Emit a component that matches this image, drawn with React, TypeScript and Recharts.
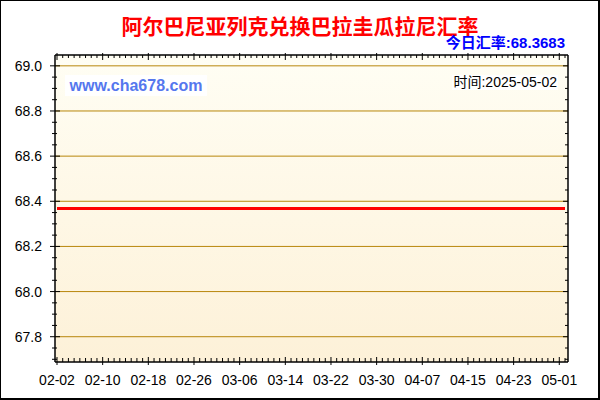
import { CartesianGrid, Line, LineChart, ReferenceLine, XAxis, YAxis } from "recharts";

// daily categories shown on the x axis
const DATES = [
  "02-02", "02-03", "02-04", "02-05", "02-06", "02-07", "02-08", "02-09", "02-10", "02-11",
  "02-12", "02-13", "02-14", "02-15", "02-16", "02-17", "02-18", "02-19", "02-20", "02-21",
  "02-22", "02-23", "02-24", "02-25", "02-26", "02-27", "02-28", "03-01", "03-02", "03-03",
  "03-04", "03-05", "03-06", "03-07", "03-08", "03-09", "03-10", "03-11", "03-12", "03-13",
  "03-14", "03-15", "03-16", "03-17", "03-18", "03-19", "03-20", "03-21", "03-22", "03-23",
  "03-24", "03-25", "03-26", "03-27", "03-28", "03-29", "03-30", "03-31", "04-01", "04-02",
  "04-03", "04-04", "04-05", "04-06", "04-07", "04-08", "04-09", "04-10", "04-11", "04-12",
  "04-13", "04-14", "04-15", "04-16", "04-17", "04-18", "04-19", "04-20", "04-21", "04-22",
  "04-23", "04-24", "04-25", "04-26", "04-27", "04-28", "04-29", "04-30", "05-01", "05-02",
];

// ALL -> PYG rate, flat over the period
const RATES = [
  68.3683, 68.3683, 68.3683, 68.3683, 68.3683, 68.3683, 68.3683, 68.3683, 68.3683, 68.3683,
  68.3683, 68.3683, 68.3683, 68.3683, 68.3683, 68.3683, 68.3683, 68.3683, 68.3683, 68.3683,
  68.3683, 68.3683, 68.3683, 68.3683, 68.3683, 68.3683, 68.3683, 68.3683, 68.3683, 68.3683,
  68.3683, 68.3683, 68.3683, 68.3683, 68.3683, 68.3683, 68.3683, 68.3683, 68.3683, 68.3683,
  68.3683, 68.3683, 68.3683, 68.3683, 68.3683, 68.3683, 68.3683, 68.3683, 68.3683, 68.3683,
  68.3683, 68.3683, 68.3683, 68.3683, 68.3683, 68.3683, 68.3683, 68.3683, 68.3683, 68.3683,
  68.3683, 68.3683, 68.3683, 68.3683, 68.3683, 68.3683, 68.3683, 68.3683, 68.3683, 68.3683,
  68.3683, 68.3683, 68.3683, 68.3683, 68.3683, 68.3683, 68.3683, 68.3683, 68.3683, 68.3683,
  68.3683, 68.3683, 68.3683, 68.3683, 68.3683, 68.3683, 68.3683, 68.3683, 68.3683, 68.3683,
];

const X_LABELS = ["02-02", "02-10", "02-18", "02-26", "03-06", "03-14", "03-22", "03-30", "04-07", "04-15", "04-23", "05-01"];

const Y_MAJOR = [67.8, 68.0, 68.2, 68.4, 68.6, 68.8, 69.0];
const Y_TICKS = [
  67.7, 67.75, 67.8, 67.85, 67.9, 67.95, 68.0, 68.05, 68.1, 68.15, 68.2, 68.25, 68.3, 68.35,
  68.4, 68.45, 68.5, 68.55, 68.6, 68.65, 68.7, 68.75, 68.8, 68.85, 68.9, 68.95, 69.0,
];
const Y_DOMAIN: [number, number] = [67.688, 69.048];

const TITLE = "阿尔巴尼亚列克兑换巴拉圭瓜拉尼汇率";
const TODAY = "今日汇率:68.3683";
const STAMP = "时间:2025-05-02";
const SITE = "www.cha678.com";

const data = DATES.map((d, i) => ({ date: d, rate: RATES[i] }));

const FONT = "'Liberation Sans', Arial, 'Noto Sans CJK SC', sans-serif";
const GOLD = "#b8860b";

const isMajor = (v: number) => Y_MAJOR.some((m) => Math.abs(m - v) < 1e-6);

function LeftTick(props: any) {
  const { x, y, payload } = props;
  const major = isMajor(payload.value);
  return (
    <g>
      <line x1={major ? x - 5 : x - 3} x2={major ? x + 5 : x + 2} y1={y} y2={y} stroke="#000" />
      {major && (
        <text x={x - 13} y={y + 5} textAnchor="end" fontSize={14} fontFamily={FONT} fill="#000">
          {payload.value.toFixed(1)}
        </text>
      )}
    </g>
  );
}

function RightTick(props: any) {
  const { x, y, payload } = props;
  const major = isMajor(payload.value);
  return <line x1={major ? x - 5 : x - 3} x2={x} y1={y} y2={y} stroke="#000" />;
}

function BottomTick(props: any) {
  const { x, y, payload } = props;
  const major = X_LABELS.includes(payload.value);
  return (
    <g>
      <line x1={x} x2={x} y1={major ? y - 5 : y - 4} y2={major ? y + 3 : y} stroke="#000" />
      {major && (
        <text x={x} y={y + 23} textAnchor="middle" fontSize={14} fontFamily={FONT} fill="#000">
          {payload.value}
        </text>
      )}
    </g>
  );
}

function TopTick(props: any) {
  const { x, y, payload } = props;
  const major = X_LABELS.includes(payload.value);
  return <line x1={x} x2={x} y1={major ? y - 2 : y} y2={major ? y + 5 : y + 3} stroke="#000" />;
}

export default function App() {
  return (
    <div
      style={{
        position: "fixed",
        left: 0,
        top: 0,
        width: 600,
        height: 400,
        background: "#fff",
        fontFamily: FONT,
      }}
    >
      <LineChart
        width={600}
        height={400}
        data={data}
        margin={{ top: 50, right: 0, bottom: 0, left: 0 }}
        style={{ position: "absolute", left: 0, top: 0 }}
      >
        <defs>
          <linearGradient id="plotBg" x1="0" y1="0" x2="0" y2="1">
            <stop offset="0%" stopColor="#fffef4" />
            <stop offset="100%" stopColor="#fdf1d8" />
          </linearGradient>
        </defs>
        <CartesianGrid horizontal={false} vertical={false} fill="url(#plotBg)" stroke="none" />
        <XAxis
          dataKey="date"
          interval={0}
          height={38}
          padding={{ left: 2, right: 3 }}
          tickSize={0}
          tickMargin={0}
          tickLine={false}
          axisLine={{ stroke: "#000", strokeWidth: 1.5 }}
          tick={<BottomTick />}
        />
        <XAxis
          xAxisId="top"
          orientation="top"
          dataKey="date"
          interval={0}
          height={5}
          padding={{ left: 2, right: 3 }}
          tickSize={0}
          tickMargin={0}
          tickLine={false}
          axisLine={{ stroke: "#000", strokeWidth: 1.5 }}
          tick={<TopTick />}
        />
        <YAxis
          width={55}
          domain={Y_DOMAIN}
          ticks={Y_TICKS}
          interval={0}
          allowDataOverflow
          tickSize={0}
          tickMargin={0}
          tickLine={false}
          axisLine={{ stroke: "#000", strokeWidth: 1.5 }}
          tick={<LeftTick />}
        />
        <YAxis
          yAxisId="right"
          orientation="right"
          width={32}
          domain={Y_DOMAIN}
          ticks={Y_TICKS}
          interval={0}
          allowDataOverflow
          tickSize={0}
          tickMargin={0}
          tickLine={false}
          axisLine={{ stroke: "#000", strokeWidth: 1.5 }}
          tick={<RightTick />}
        />
        {Y_MAJOR.map((v) => (
          <ReferenceLine key={v} y={v} stroke={GOLD} strokeWidth={1} />
        ))}
        <Line
          type="linear"
          dataKey="rate"
          stroke="#ff0000"
          strokeWidth={3}
          dot={false}
          activeDot={false}
          isAnimationActive={false}
        />
      </LineChart>

      <div
        style={{
          position: "absolute",
          left: 0,
          top: 0,
          width: 600,
          height: 400,
          boxSizing: "border-box",
          borderStyle: "solid",
          borderColor: "#000",
          borderWidth: "1px 2px 2px 1px",
          pointerEvents: "none",
        }}
      />
      <div
        style={{
          position: "absolute",
          left: 0,
          width: 600,
          top: 14,
          textAlign: "center",
          fontSize: 21,
          lineHeight: "22px",
          fontWeight: "bold",
          color: "#ff0000",
          fontFamily: "'Noto Sans CJK SC', sans-serif",
        }}
      >
        {TITLE}
      </div>
      <div
        style={{
          position: "absolute",
          right: 35,
          top: 34,
          fontSize: 15,
          lineHeight: "17px",
          fontWeight: "bold",
          color: "#0000ff",
        }}
      >
        {TODAY}
      </div>
      <div
        style={{
          position: "absolute",
          left: 65,
          top: 75,
          width: 142,
          height: 21,
          background: "#fff",
          fontSize: 16,
          lineHeight: "21px",
          fontWeight: "bold",
          color: "#5577ee",
          textAlign: "center",
        }}
      >
        {SITE}
      </div>
      <div
        style={{
          position: "absolute",
          right: 42,
          top: 75,
          height: 15,
          padding: "0 1px",
          background: "#fff",
          fontSize: 14,
          lineHeight: "15px",
          color: "#000",
        }}
      >
        {STAMP}
      </div>
    </div>
  );
}
